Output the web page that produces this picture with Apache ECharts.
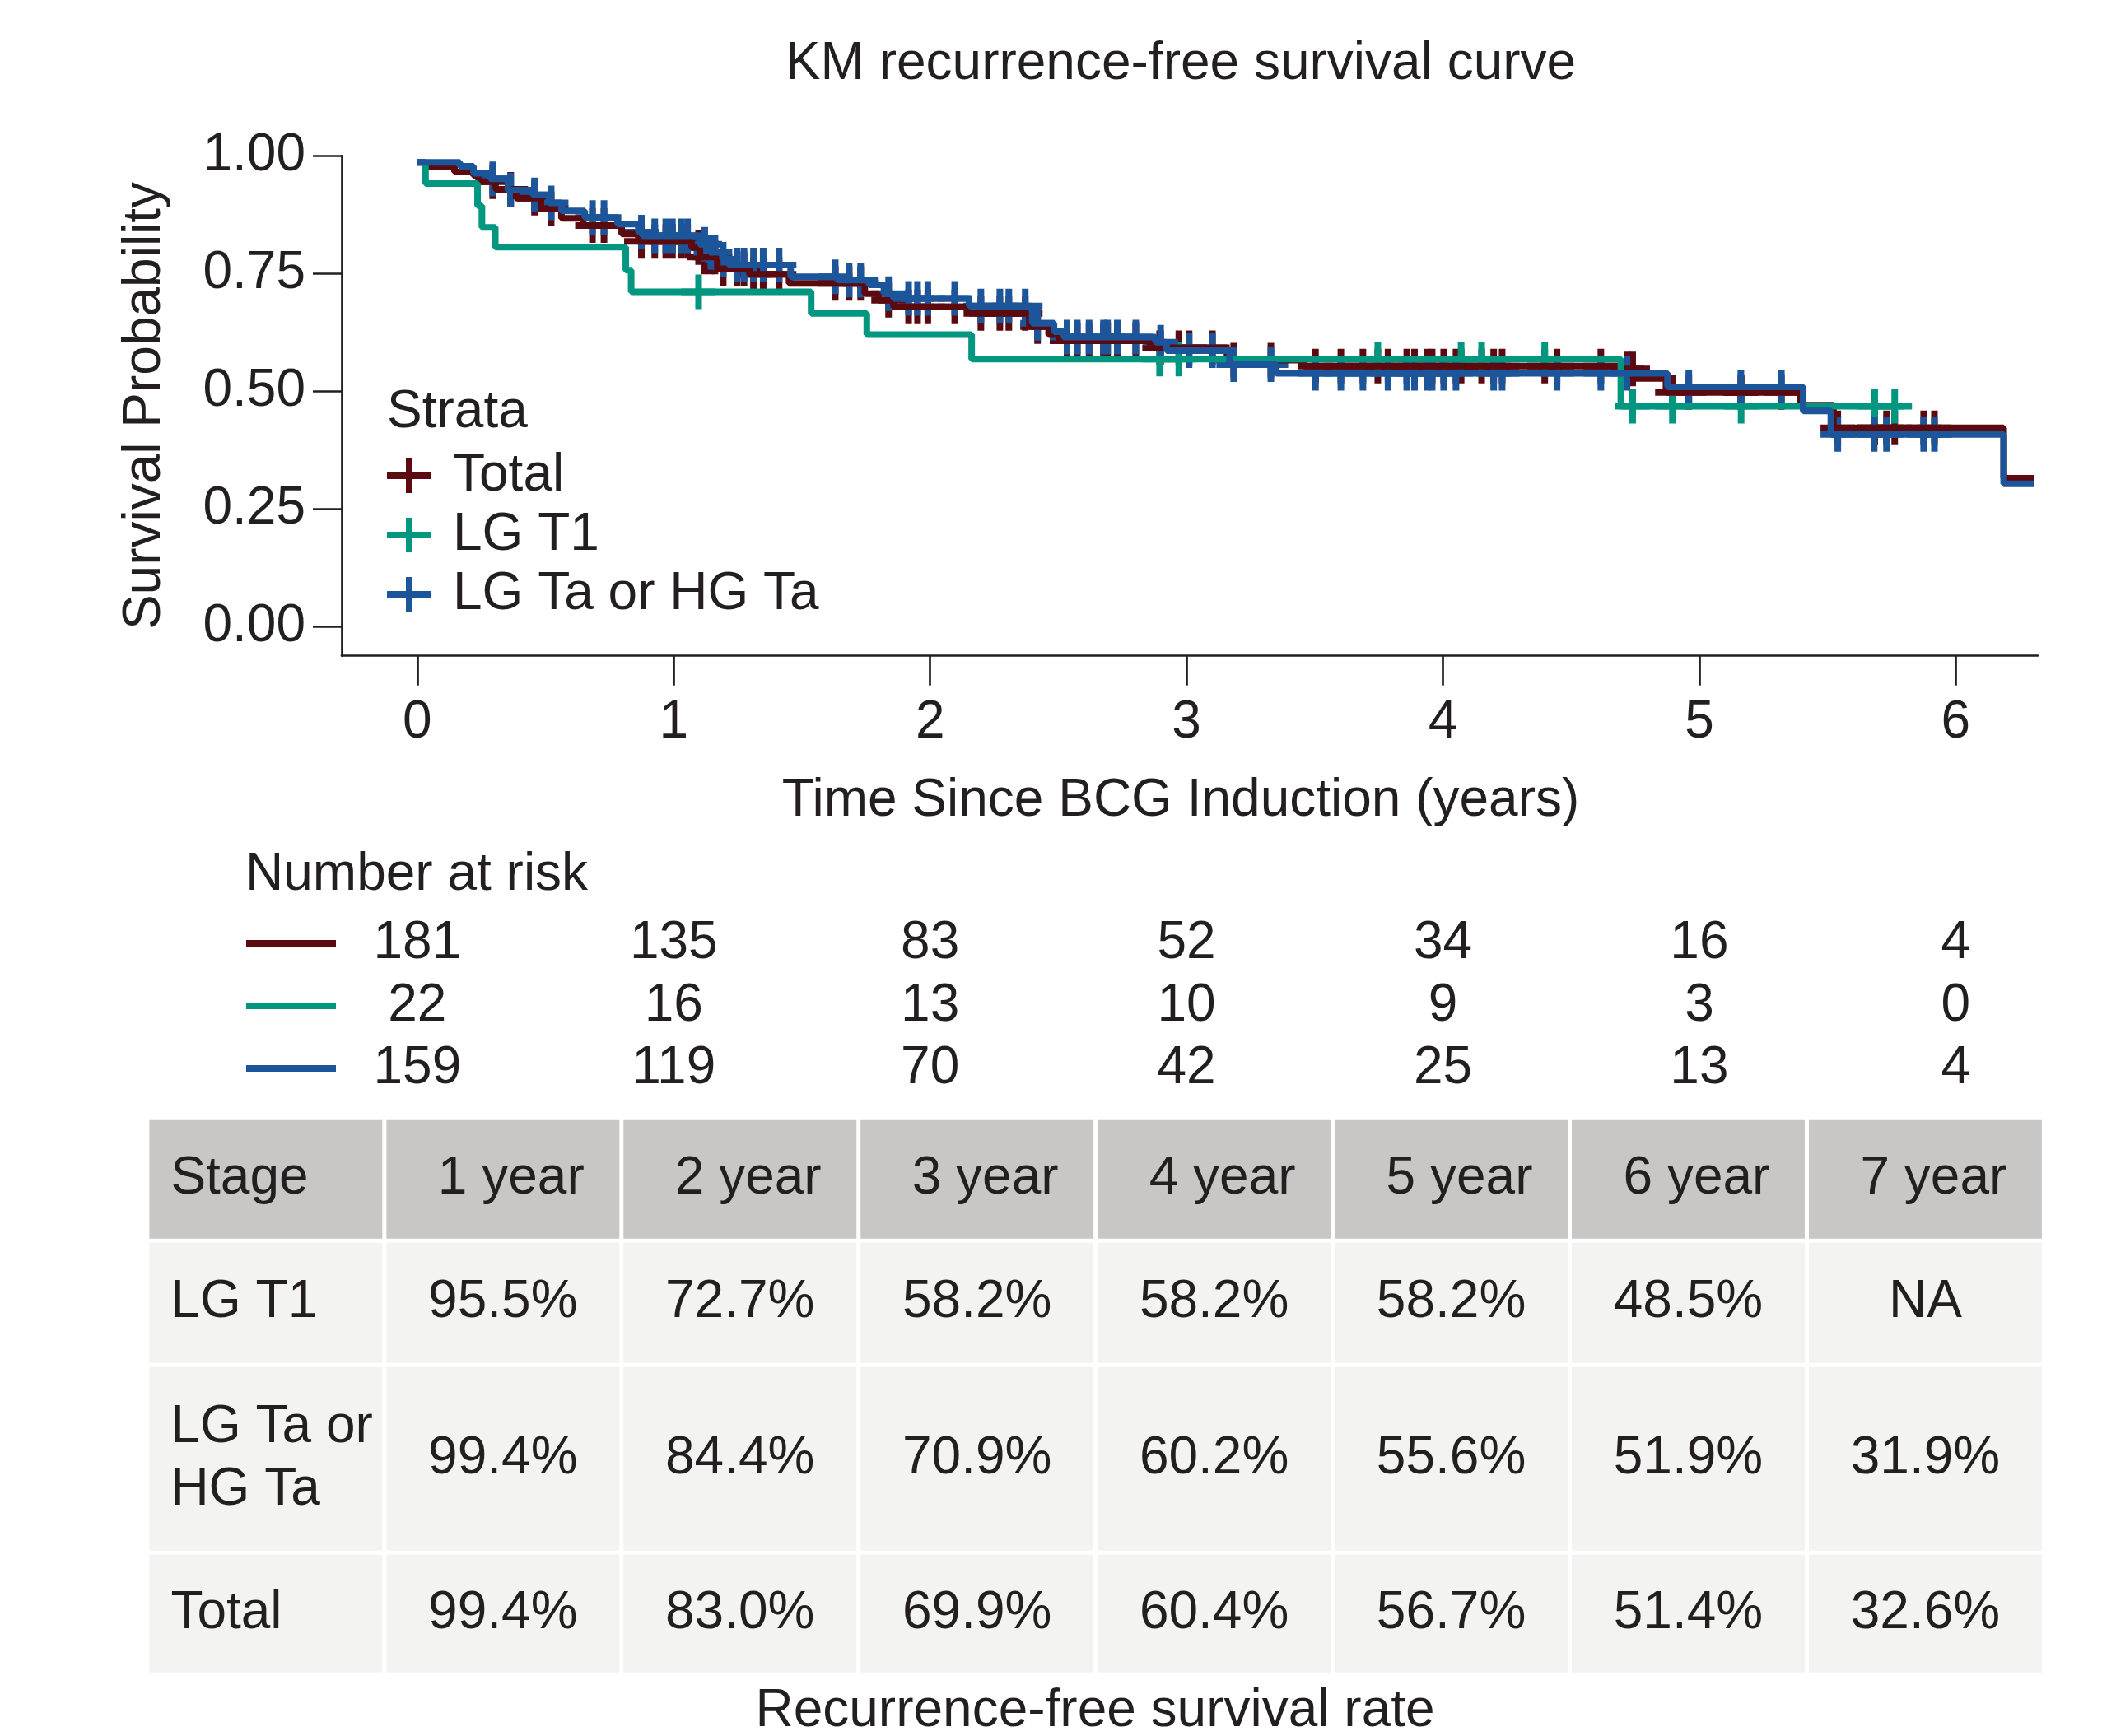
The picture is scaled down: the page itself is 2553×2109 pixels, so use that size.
<!DOCTYPE html>
<html>
<head>
<meta charset="utf-8">
<script src="https://cdn.jsdelivr.net/npm/echarts@6/dist/echarts.min.js"></script>
<style>
html, body { margin: 0; padding: 0; background: #fff; }
#main { width: 2553px; height: 2109px; }
</style>
</head>
<body>
<div id="main"></div>
<script>
// strata and colours
var STRATA = ['Total', 'LG T1', 'LG Ta or HG Ta'];
var COLORS = ['#5b0b10', '#00967f', '#1d559b'];

// KM steps: time (years) and survival after the drop at that time
var totalTimes = [0, 0.032, 0.145, 0.219, 0.241, 0.305, 0.385, 0.482, 0.562, 0.647, 0.797, 0.862, 1.070, 1.102, 1.170, 1.295, 1.450, 1.745, 1.798, 1.857, 2.152, 2.387, 2.462, 2.505, 2.858, 3.158, 3.457, 4.689, 4.742, 4.870, 5.395, 5.523, 6.187, 6.305];
var totalSurv = [0.986, 0.977, 0.966, 0.958, 0.945, 0.929, 0.910, 0.888, 0.867, 0.852, 0.834, 0.818, 0.805, 0.785, 0.760, 0.748, 0.729, 0.707, 0.693, 0.679, 0.665, 0.637, 0.620, 0.607, 0.592, 0.566, 0.553, 0.547, 0.527, 0.497, 0.470, 0.422, 0.315, 0.315];

var t1Times = [0, 0.032, 0.235, 0.252, 0.304, 0.813, 0.834, 1.536, 1.753, 2.162, 4.694, 5.800];
var t1Surv = [0.986, 0.941, 0.894, 0.848, 0.806, 0.757, 0.711, 0.665, 0.620, 0.568, 0.468, 0.468];

var taTimes = [0, 0.166, 0.219, 0.284, 0.353, 0.450, 0.514, 0.562, 0.653, 0.781, 0.862, 0.878, 1.100, 1.140, 1.190, 1.215, 1.456, 1.638, 1.761, 1.820, 1.857, 2.152, 2.398, 2.483, 2.520, 2.879, 2.922, 3.168, 3.350, 4.876, 5.405, 5.513, 6.187, 6.305];
var taSurv = [0.986, 0.978, 0.963, 0.951, 0.927, 0.917, 0.900, 0.883, 0.869, 0.855, 0.838, 0.830, 0.812, 0.795, 0.780, 0.768, 0.743, 0.736, 0.726, 0.707, 0.697, 0.681, 0.644, 0.626, 0.615, 0.604, 0.586, 0.556, 0.538, 0.509, 0.458, 0.408, 0.303, 0.303];

// censoring times
var totalCensor = [0.294, 0.364, 0.457, 0.522, 0.683, 0.728, 0.874, 0.926, 0.969, 0.995, 1.028, 1.054, 1.097, 1.121, 1.145, 1.161, 1.193, 1.247, 1.274, 1.311, 1.349, 1.411, 1.630, 1.684, 1.729, 1.838, 1.916, 1.951, 1.991, 2.096, 2.198, 2.272, 2.307, 2.371, 2.419, 2.534, 2.574, 2.620, 2.676, 2.692, 2.730, 2.802, 2.895, 2.899, 2.970, 3.010, 3.101, 3.184, 3.329, 3.503, 3.602, 3.688, 3.746, 3.786, 3.859, 3.889, 3.939, 3.958, 4.003, 4.051, 4.071, 4.151, 4.198, 4.231, 4.397, 4.445, 4.616, 4.718, 4.740, 4.895, 4.959, 5.162, 5.163, 5.320, 5.540, 5.682, 5.684, 5.730, 5.762, 5.875, 5.917];
var t1Censor = [1.097, 2.895, 2.970, 3.746, 4.071, 4.151, 4.397, 4.740, 4.895, 5.163, 5.684, 5.762];
var taCensor = [0.294, 0.364, 0.457, 0.522, 0.683, 0.728, 0.874, 0.926, 0.969, 0.995, 1.028, 1.054, 1.121, 1.145, 1.161, 1.193, 1.247, 1.274, 1.311, 1.349, 1.411, 1.630, 1.684, 1.729, 1.838, 1.916, 1.951, 1.991, 2.096, 2.198, 2.272, 2.307, 2.371, 2.419, 2.534, 2.574, 2.620, 2.676, 2.692, 2.730, 2.802, 2.899, 3.010, 3.101, 3.184, 3.329, 3.503, 3.602, 3.688, 3.786, 3.859, 3.889, 3.939, 3.958, 4.003, 4.051, 4.198, 4.231, 4.445, 4.616, 4.718, 4.959, 5.162, 5.320, 5.540, 5.682, 5.730, 5.875, 5.917];

// axis ticks
var X_TICKS = [0, 1, 2, 3, 4, 5, 6];
var Y_TICKS = [0, 0.25, 0.5, 0.75, 1];

// number at risk
var RISK_TOTAL = [181, 135, 83, 52, 34, 16, 4];
var RISK_T1 = [22, 16, 13, 10, 9, 3, 0];
var RISK_TA = [159, 119, 70, 42, 25, 13, 4];

// recurrence-free survival rate table
var TABLE_HEAD = ['Stage', '1 year', '2 year', '3 year', '4 year', '5 year', '6 year', '7 year'];
var TABLE_STAGE = ['LG T1', 'LG Ta or\nHG Ta', 'Total'];
var RATE_T1 = ['95.5%', '72.7%', '58.2%', '58.2%', '58.2%', '48.5%', 'NA'];
var RATE_TA = ['99.4%', '84.4%', '70.9%', '60.2%', '55.6%', '51.9%', '31.9%'];
var RATE_TOTAL = ['99.4%', '83.0%', '69.9%', '60.4%', '56.7%', '51.4%', '32.6%'];

// layout / style
var FONT = 'Liberation Sans, Arial, Helvetica, sans-serif';
var INK = '#231f20';
var FS = 64;
var ROW_EDGES = [0, 149, 300, 528, 676];
var PLUS = 'path://M17,0 H25 V42 H17 Z M0,17 H42 V25 H0 Z';
var KEY = 'path://M0,17 H54 V25 H0 Z M23,0 H31 V42 H23 Z';

var survAt = function (times, surv, t) {
    var v = surv[0];
    for (var i = 0; i < times.length; i++) {
        if (times[i] <= t) v = surv[i];
    }
    return v;
};

var curves = [
    {times: totalTimes, surv: totalSurv, censor: totalCensor},
    {times: t1Times, surv: t1Surv, censor: t1Censor},
    {times: taTimes, surv: taSurv, censor: taCensor}
];

var series = [];
// step lines first, censor marks on top
curves.forEach(function (c, i) {
    series.push({
        name: STRATA[i],
        type: 'line',
        step: 'end',
        symbol: 'none',
        xAxisIndex: 0, yAxisIndex: 0,
        itemStyle: {color: COLORS[i]},
        lineStyle: {color: COLORS[i], width: 8},
        data: c.times.map(function (t, k) { return [t, c.surv[k]]; })
    });
});
curves.forEach(function (c, i) {
    series.push({
        name: STRATA[i],
        type: 'scatter',
        symbol: PLUS,
        symbolSize: 42,
        xAxisIndex: 0, yAxisIndex: 0,
        itemStyle: {color: COLORS[i], opacity: 1},
        data: c.censor.map(function (t) { return [t, survAt(c.times, c.surv, t)]; })
    });
});

// number at risk
var riskRows = [RISK_TOTAL, RISK_T1, RISK_TA];
var riskData = [];
riskRows.forEach(function (row, r) {
    row.forEach(function (n, k) { riskData.push([X_TICKS[k], r, n]); });
});
series.push({
    name: 'risk',
    type: 'custom',
    xAxisIndex: 1, yAxisIndex: 1,
    data: riskData,
    renderItem: function (params, api) {
        var p = api.coord([api.value(0), api.value(1)]);
        return {
            type: 'text',
            style: {
                text: String(api.value(2)), x: p[0], y: p[1],
                align: 'center', verticalAlign: 'middle',
                fontSize: FS, fontFamily: FONT, fill: INK
            }
        };
    }
});

// table cells
var tableCells = [];
TABLE_HEAD.forEach(function (h, c) { tableCells.push({col: c, row: 0, text: h}); });
[RATE_T1, RATE_TA, RATE_TOTAL].forEach(function (rates, r) {
    tableCells.push({col: 0, row: r + 1, text: TABLE_STAGE[r]});
    rates.forEach(function (v, c) { tableCells.push({col: c + 1, row: r + 1, text: v}); });
});
series.push({
    name: 'table',
    type: 'custom',
    xAxisIndex: 2, yAxisIndex: 2,
    data: tableCells.map(function (d) { return [d.col, d.row]; }),
    renderItem: function (params, api) {
        var cell = tableCells[params.dataIndex];
        var col = api.value(0), row = api.value(1);
        var p0 = api.coord([col, ROW_EDGES[row]]);
        var p1 = api.coord([col + 1, ROW_EDGES[row + 1]]);
        var x = p0[0] + 2.5, y = p0[1] + 2.5;
        var w = p1[0] - p0[0] - 5, h = p1[1] - p0[1] - 5;
        var left = col === 0;
        return {
            type: 'group',
            children: [{
                type: 'rect',
                shape: {x: x, y: y, width: w, height: h},
                style: {fill: row === 0 ? '#c8c7c5' : '#f3f3f2'}
            }, {
                type: 'text',
                style: {
                    text: cell.text,
                    x: left ? x + 26 : x + w / 2 + (row === 0 ? 10 : 0),
                    y: y + h / 2,
                    align: left ? 'left' : 'center', verticalAlign: 'middle',
                    lineHeight: 76,
                    fontSize: FS, fontFamily: FONT, fill: INK
                }
            }]
        };
    }
});

var axisText = {fontSize: FS, fontFamily: FONT, color: INK};
var axisLine = {show: true, onZero: false, lineStyle: {color: INK, width: 2.7}};

var option = {
    animation: false,
    backgroundColor: '#fff',
    title: [{
        text: 'KM recurrence-free survival curve',
        left: 1434, top: 42, textAlign: 'center', padding: 0,
        textStyle: {fontSize: FS, fontWeight: 'normal', fontFamily: FONT, color: INK, lineHeight: 72}
    }, {
        text: 'Strata',
        left: 470, top: 465, padding: 0,
        textStyle: {fontSize: FS, fontWeight: 'normal', fontFamily: FONT, color: INK, lineHeight: 72}
    }, {
        text: 'Number at risk',
        left: 298, top: 1027, padding: 0,
        textStyle: {fontSize: FS, fontWeight: 'normal', fontFamily: FONT, color: INK, lineHeight: 72}
    }, {
        text: 'Recurrence-free survival rate',
        left: 1330, top: 2043, textAlign: 'center', padding: 0,
        textStyle: {fontSize: FS, fontWeight: 'normal', fontFamily: FONT, color: INK, lineHeight: 72}
    }],
    legend: {
        orient: 'vertical',
        left: 470, top: 542, padding: 0,
        itemWidth: 54, itemHeight: 42, itemGap: 0,
        selectedMode: false,
        itemStyle: {borderWidth: 0},
        textStyle: {fontSize: FS, fontFamily: FONT, color: INK, lineHeight: 72, padding: [0, 0, 0, 21]},
        data: STRATA.map(function (s) { return {name: s, icon: KEY}; })
    },
    grid: [
        {left: 415, right: 78, top: 189.3, bottom: 1312.3},
        {left: 415, right: 78, top: 1108, height: 228},
        {left: 178.9, right: 70.6, top: 1358.2, height: 676}
    ],
    xAxis: [{
        type: 'value', gridIndex: 0,
        min: -0.295, max: 6.32,
        name: 'Time Since BCG Induction (years)',
        nameLocation: 'middle', nameGap: 145,
        nameTextStyle: {fontSize: FS, fontFamily: FONT, color: INK, lineHeight: 64, padding: [0, 22, 0, 0]},
        axisLine: axisLine,
        axisTick: {show: true, length: 36, customValues: X_TICKS, lineStyle: {color: INK, width: 2.7}},
        axisLabel: Object.assign({customValues: X_TICKS, margin: 50}, axisText),
        splitLine: {show: false}
    }, {
        type: 'value', gridIndex: 1, min: -0.295, max: 6.32, show: false
    }, {
        type: 'value', gridIndex: 2, min: 0, max: 8, show: false
    }],
    yAxis: [{
        type: 'value', gridIndex: 0,
        min: -0.0625, max: 1,
        name: 'Survival Probability',
        nameLocation: 'middle', nameGap: 207,
        nameTextStyle: {fontSize: FS, fontFamily: FONT, color: INK, lineHeight: 64},
        axisLine: axisLine,
        axisTick: {show: true, length: 35, customValues: Y_TICKS, lineStyle: {color: INK, width: 2.7}},
        axisLabel: Object.assign({
            customValues: Y_TICKS, margin: 44,
            formatter: function (v) { return v.toFixed(2); }
        }, axisText),
        splitLine: {show: false}
    }, {
        type: 'category', gridIndex: 1,
        data: STRATA, inverse: true,
        axisLine: {show: false}, axisTick: {show: false}, splitLine: {show: false},
        axisLabel: {
            margin: 7,
            formatter: function (v, i) { return '{k' + i + '|}'; },
            rich: {
                k0: {width: 109, height: 8, backgroundColor: COLORS[0]},
                k1: {width: 109, height: 8, backgroundColor: COLORS[1]},
                k2: {width: 109, height: 8, backgroundColor: COLORS[2]}
            }
        }
    }, {
        type: 'value', gridIndex: 2, min: 0, max: 676, inverse: true, show: false
    }],
    series: series
};

var chart = echarts.init(document.getElementById('main'), null, {renderer: 'canvas'});
chart.setOption(option);
</script>
</body>
</html>
